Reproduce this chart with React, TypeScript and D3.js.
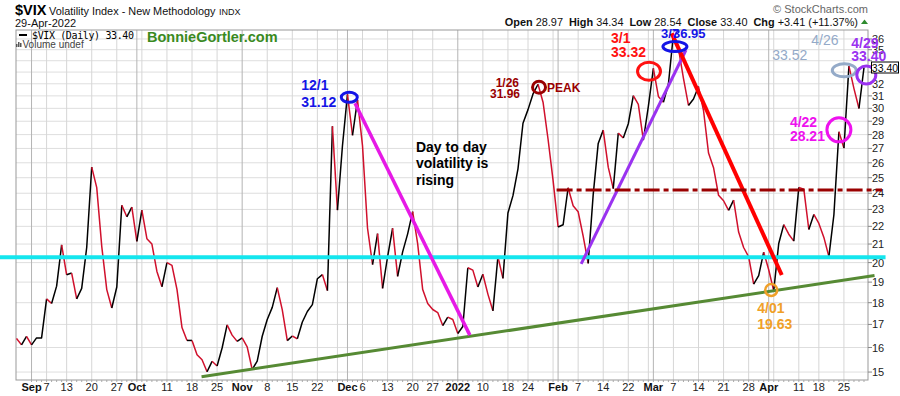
import React from "react";
import * as d3 from "d3";

// ---------------- DATA ----------------
// Trading days (day of month) and $VIX daily closes, Aug 27 2021 – Apr 29 2022
const augDays = [27, 30, 31];
const augClose = [16.39, 16.11, 16.48];
const sepDays = [1, 2, 3, 7, 8, 9, 10, 13, 14, 15, 16, 17, 20, 21, 22, 23, 24, 27, 28, 29, 30];
const sepClose = [16.11, 16.41, 16.41, 18.18, 17.96, 18.8, 20.95, 19.37, 19.46, 18.18, 18.69, 20.81, 25.71, 24.36, 20.87, 18.63, 17.75, 18.76, 23.25, 22.56, 23.14];
const octDays = [1, 4, 5, 6, 7, 8, 11, 12, 13, 14, 15, 18, 19, 20, 21, 22, 25, 26, 27, 28, 29];
const octClose = [21.15, 22.96, 21.3, 21.0, 19.54, 18.77, 20.0, 19.85, 18.64, 16.86, 16.3, 16.3, 15.7, 15.49, 15.01, 15.43, 15.24, 15.98, 16.98, 16.53, 16.26];
const novDays = [1, 2, 3, 4, 5, 8, 9, 10, 11, 12, 15, 16, 17, 18, 19, 22, 23, 24, 26, 29, 30];
const novClose = [16.41, 16.03, 15.1, 15.44, 16.48, 17.22, 17.78, 18.73, 17.66, 16.29, 16.49, 16.37, 17.11, 17.59, 17.91, 19.17, 19.38, 18.58, 28.62, 22.96, 27.19];
const decDays = [1, 2, 3, 6, 7, 8, 9, 10, 13, 14, 15, 16, 17, 20, 21, 22, 23, 27, 28, 29, 30, 31];
const decClose = [31.12, 27.95, 30.67, 27.18, 21.89, 19.9, 21.58, 18.69, 20.31, 21.89, 19.29, 20.57, 21.57, 22.87, 21.01, 18.63, 17.96, 17.68, 17.54, 16.95, 17.33, 17.22];
const janDays = [3, 4, 5, 6, 7, 10, 11, 12, 13, 14, 18, 19, 20, 21, 24, 25, 26, 27, 28, 31];
const janClose = [16.6, 16.91, 19.73, 19.61, 18.76, 19.4, 18.41, 17.62, 20.31, 19.19, 22.79, 23.85, 25.59, 28.85, 29.9, 31.16, 31.96, 30.49, 27.66, 24.83];
const febDays = [1, 2, 3, 4, 7, 8, 9, 10, 11, 14, 15, 16, 17, 18, 22, 23, 24, 25, 28];
const febClose = [21.96, 22.09, 24.35, 23.22, 22.86, 21.44, 19.96, 23.91, 27.36, 28.33, 25.7, 24.29, 28.11, 27.75, 28.81, 31.02, 30.32, 27.59, 30.15];
const marDays = [1, 2, 3, 4, 7, 8, 9, 10, 11, 14, 15, 16, 17, 18, 21, 22, 23, 24, 25, 28, 29, 30, 31];
const marClose = [33.32, 30.95, 30.48, 31.98, 36.45, 35.13, 32.45, 30.23, 30.75, 31.77, 29.83, 26.67, 25.67, 23.87, 23.53, 22.94, 23.57, 21.67, 20.81, 20.31, 18.9, 19.33, 20.56];
const aprDays = [1, 4, 5, 6, 7, 8, 11, 12, 13, 14, 18, 19, 20, 21, 22, 25, 26, 27, 28, 29];
const aprClose = [19.63, 18.57, 21.03, 22.1, 21.55, 21.16, 24.37, 24.26, 21.82, 22.7, 22.17, 21.37, 20.32, 22.68, 28.21, 27.02, 33.52, 31.6, 29.99, 33.4];

const monthBlocks: [number, number, number[], number[]][] = [
  [2021, 8, augDays, augClose],
  [2021, 9, sepDays, sepClose],
  [2021, 10, octDays, octClose],
  [2021, 11, novDays, novClose],
  [2021, 12, decDays, decClose],
  [2022, 1, janDays, janClose],
  [2022, 2, febDays, febClose],
  [2022, 3, marDays, marClose],
  [2022, 4, aprDays, aprClose],
];

// x tick labels
const monthLabels: Record<number, string> = { 9: "Sep", 10: "Oct", 11: "Nov", 12: "Dec", 1: "2022", 2: "Feb", 3: "Mar", 4: "Apr" };
const yTicks = d3.range(15, 37);
const yHiddenLabels = [33, 34];
const lastClose = 33.4;

const headerStats: [string, string][] = [
  ["Open", "28.97"],
  ["High", "34.34"],
  ["Low", "28.54"],
  ["Close", "33.40"],
  ["Chg", "+3.41 (+11.37%)"],
];

// annotation trend lines, in (trading-day index, value) coordinates
const trendLines = [
  { i0: -6.3, v0: 20.28, i1: 170.3, v1: 20.28, color: "#14e6ee", w: 4, dash: "" },
  { i0: 33.9, v0: 14.82, i1: 168.1, v1: 19.33, color: "#568a34", w: 3, dash: "" },
  { i0: 64.5, v0: 30.4, i1: 87.4, v1: 16.53, color: "#e619e6", w: 3.5, dash: "" },
  { i0: 109.6, v0: 19.93, i1: 130.5, v1: 34.97, color: "#9a32f0", w: 3, dash: "" },
  { i0: 127.65, v0: 36.54, i1: 149.6, v1: 19.36, color: "#ff0000", w: 4, dash: "" },
  { i0: 104.7, v0: 24.2, i1: 169.6, v1: 24.2, color: "#9a0000", w: 3, dash: "16,4,5,4" },
];

type Lbl = { t: string; dx: number; dy: number; anchor?: string };
const markers: { i: number; v: number; rx: number; ry: number; color: string; w: number; size: number; weight: string; labels: Lbl[] }[] = [
  { i: 63.36, v: 30.88, rx: 8, ry: 5, color: "#1414e6", w: 3, size: 14, weight: "bold", labels: [{ t: "12/1", dx: -48, dy: -7 }, { t: "31.12", dx: -48, dy: 10 }] },
  { i: 101.2, v: 31.71, rx: 6.5, ry: 6, color: "#990000", w: 3, size: 12, weight: "bold", labels: [{ t: "1/26", dx: -20, dy: 0, anchor: "end" }, { t: "31.96", dx: -19, dy: 11, anchor: "end" }, { t: "PEAK", dx: 8, dy: 5 }] },
  { i: 123.13, v: 33.07, rx: 11.5, ry: 9, color: "#ff1010", w: 3, size: 14, weight: "bold", labels: [{ t: "3/1", dx: -38, dy: -28 }, { t: "33.32", dx: -38, dy: -14 }] },
  { i: 128.3, v: 35.29, rx: 12, ry: 5, color: "#1414e6", w: 3, size: 13, weight: "bold", labels: [{ t: "3/7", dx: -14, dy: -8.5 }, { t: "36.95", dx: -2, dy: -8.5 }] },
  { i: 162.07, v: 33.15, rx: 12, ry: 6.5, color: "#94aac8", w: 3, size: 14, weight: "normal", labels: [{ t: "4/26", dx: -33, dy: -25 }, { t: "33.52", dx: -72, dy: -10 }] },
  { i: 166.46, v: 32.75, rx: 9.5, ry: 9, color: "#9a32f0", w: 3, size: 14, weight: "bold", labels: [{ t: "4/29", dx: -15, dy: -27 }, { t: "33.40", dx: -15, dy: -14 }] },
  { i: 161.0, v: 28.35, rx: 12, ry: 12, color: "#ee11ee", w: 3, size: 14, weight: "bold", labels: [{ t: "4/22", dx: -49, dy: -3 }, { t: "28.21", dx: -49, dy: 11 }] },
  { i: 147.5, v: 18.61, rx: 6, ry: 6, color: "#f0a028", w: 2.5, size: 14, weight: "bold", labels: [{ t: "4/01", dx: -14, dy: 23 }, { t: "19.63", dx: -14, dy: 39 }] },
];

const noteLines = ["Day to day", "volatility is", "rising"];
const noteAt = { i: 76.66, v: 26.75 };

// ---------------- CHART ----------------
type Pt = { i: number; date: Date; v: number };

function buildSeries(): Pt[] {
  const out: Pt[] = [];
  let k = -augDays.length;
  monthBlocks.forEach(([yr, mo, days, closes]) => {
    days.forEach((d, j) => {
      out.push({ i: k, date: new Date(yr, mo - 1, d), v: closes[j] });
      k++;
    });
  });
  return out;
}

const FONT = "Arial, 'Liberation Sans', sans-serif";
const L = 16, R = 868, T = 30, B = 380;
const UP = "#000000";
const DOWN = "#d0102c";

export default function App() {
  const pts = buildSeries();
  const x = d3.scaleLinear().domain([-3.1, 166.8]).range([L, R]);
  const y = d3.scaleLog().domain([14.69, 36.86]).range([B, T]);

  // x ticks: month starts and week starts (from Sep 1)
  const visible = pts.filter((p) => p.i >= 0);
  const monthStarts: Pt[] = [];
  const weekStarts: Pt[] = [];
  visible.forEach((p, j) => {
    const prev = j === 0 ? null : visible[j - 1];
    if (!prev || prev.date.getMonth() !== p.date.getMonth()) monthStarts.push(p);
    else if (p.date.getDay() < prev.date.getDay() || (p.date.getTime() - prev.date.getTime()) > 3.5 * 864e5) weekStarts.push(p);
  });
  const weekLabeled = weekStarts.map((w) => !monthStarts.some((m) => Math.abs(m.i - w.i) <= 2));

  const runs: { color: string; pts: Pt[] }[] = [];
  for (let k = 1; k < pts.length; k++) {
    const color = pts[k].v >= pts[k - 1].v ? UP : DOWN;
    const last = runs[runs.length - 1];
    if (last && last.color === color) last.pts.push(pts[k]);
    else runs.push({ color, pts: [pts[k - 1], pts[k]] });
  }
  const line = d3.line<Pt>().x((d) => x(d.i)).y((d) => y(d.v));

  return (
    <svg width={900} height={396} style={{ position: "absolute", left: 0, top: 0, background: "#fff" }} fontFamily={FONT}>
      <defs>
        <clipPath id="plot">
          <rect x={L} y={T} width={R - L} height={B - T} />
        </clipPath>
      </defs>
      <rect x={0} y={0} width={900} height={396} fill="#fff" />

      {/* header */}
      <text x={15} y={15} fontSize={14.5} fontWeight="bold" fill="#000">$VIX</text>
      <text x={49} y={14.5} fontSize={10.9} fill="#111">Volatility Index - New Methodology</text>
      <text x={219} y={14.5} fontSize={9} fill="#111">INDX</text>
      <text x={15} y={26.5} fontSize={11} fill="#111">29-Apr-2022</text>
      <text x={868} y={13} fontSize={11} fill="#666" textAnchor="end">© StockCharts.com</text>
      <text x={858} y={25.5} fontSize={10.9} textAnchor="end" fill="#111">
        {headerStats.map(([k, v], j) => (
          <React.Fragment key={k}>
            <tspan fontWeight="bold" dx={j ? 6 : 0}>{k}</tspan>
            <tspan>{" " + v}</tspan>
          </React.Fragment>
        ))}
      </text>
      <path d="M861,24 L864.5,19.5 L868,24 Z" fill="#2e8b2e" />

      {/* grid */}
      {yTicks.map((t) => (
        <line key={"hg" + t} x1={L} x2={R} y1={y(t)} y2={y(t)} stroke="#dedede" strokeWidth={1} />
      ))}
      {weekStarts.map((p) => (
        <line key={"wg" + p.i} x1={x(p.i)} x2={x(p.i)} y1={T} y2={B} stroke="#d6d6d6" strokeWidth={1} />
      ))}
      {monthStarts.map((p) => (
        <line key={"mg" + p.i} x1={x(p.i)} x2={x(p.i)} y1={T} y2={B} stroke="#b4b4b4" strokeWidth={1} />
      ))}
      <rect x={L} y={T} width={R - L} height={B - T} fill="none" stroke="#999" strokeWidth={1} />

      {/* daily ticks on bottom axis */}
      {visible.map((p) => (
        <line key={"dt" + p.i} x1={x(p.i)} x2={x(p.i)} y1={B} y2={B + 2} stroke="#aaa" strokeWidth={1} />
      ))}

      {/* x labels */}
      {monthStarts.map((p) => (
        <text key={"ml" + p.i} x={x(p.i)} y={391} fontSize={11} fontWeight="bold" textAnchor="middle" fill="#111">
          {monthLabels[p.date.getMonth() + 1]}
        </text>
      ))}
      {weekStarts.map((p, j) =>
        weekLabeled[j] ? (
          <text key={"wl" + p.i} x={x(p.i)} y={391} fontSize={11} textAnchor="middle" fill="#222">
            {p.date.getDate()}
          </text>
        ) : null
      )}

      {/* y axis */}
      {yTicks.map((t) => (
        <g key={"yt" + t}>
          <line x1={R} x2={R + 4} y1={y(t)} y2={y(t)} stroke="#888" />
          {yHiddenLabels.includes(t) ? null : (
            <text x={R + 4} y={y(t) + 4} fontSize={11} fill="#222">{t}</text>
          )}
        </g>
      ))}

      {/* legend */}
      <line x1={19} x2={27} y1={35} y2={35} stroke="#000" strokeWidth={2} />
      <text x={32} y={39} fontSize={10} fill="#000" fontFamily="DejaVu Sans Mono, Liberation Mono, monospace" textLength={102} lengthAdjust="spacing">$VIX (Daily) 33.40</text>
      <rect x={16} y={44} width={1.5} height={3} fill="#555" />
      <rect x={18} y={42} width={1.5} height={5} fill="#555" />
      <rect x={20} y={43} width={1.5} height={4} fill="#555" />
      <text x={22.5} y={47.5} fontSize={10} fill="#444">Volume undef</text>
      <text x={147} y={42} fontSize={14.5} fontWeight="bold" fill="#3a8a1e">BonnieGortler.com</text>

      {/* price line */}
      <g clipPath="url(#plot)">
        {runs.map((r, k) => (
          <path key={"r" + k} d={line(r.pts) || ""} fill="none" stroke={r.color} strokeWidth={1.5} strokeLinejoin="round" />
        ))}
      </g>

      {/* annotation lines */}
      {trendLines.map((l, k) => (
        <line key={"tl" + k} x1={x(l.i0)} y1={y(l.v0)} x2={x(l.i1)} y2={y(l.v1)} stroke={l.color} strokeWidth={l.w} strokeDasharray={l.dash || undefined} />
      ))}

      {/* note text */}
      {noteLines.map((s, k) => (
        <text key={"n" + k} x={x(noteAt.i)} y={y(noteAt.v) + k * 16.5} fontSize={14} fontWeight="bold" fill="#000">{s}</text>
      ))}

      {/* markers and labels */}
      {markers.map((m, k) => {
        const cx = x(m.i), cy = y(m.v);
        return (
          <g key={"mk" + k}>
            <ellipse cx={cx} cy={cy} rx={m.rx} ry={m.ry} fill="none" stroke={m.color} strokeWidth={m.w} />
            {m.labels.map((lb, j) => (
              <text key={j} x={cx + lb.dx} y={cy + lb.dy} fontSize={m.size} fontWeight={m.weight} fill={m.color} textAnchor={lb.anchor || "start"}>
                {lb.t}
              </text>
            ))}
          </g>
        );
      })}

      {/* last price box */}
      <rect x={871.5} y={y(lastClose) - 5.5} width={27} height={11} fill="#fff" stroke="#000" strokeWidth={1} />
      <text x={885} y={y(lastClose) + 4} fontSize={10.5} textAnchor="middle" fill="#000">{lastClose.toFixed(2)}</text>
    </svg>
  );
}
